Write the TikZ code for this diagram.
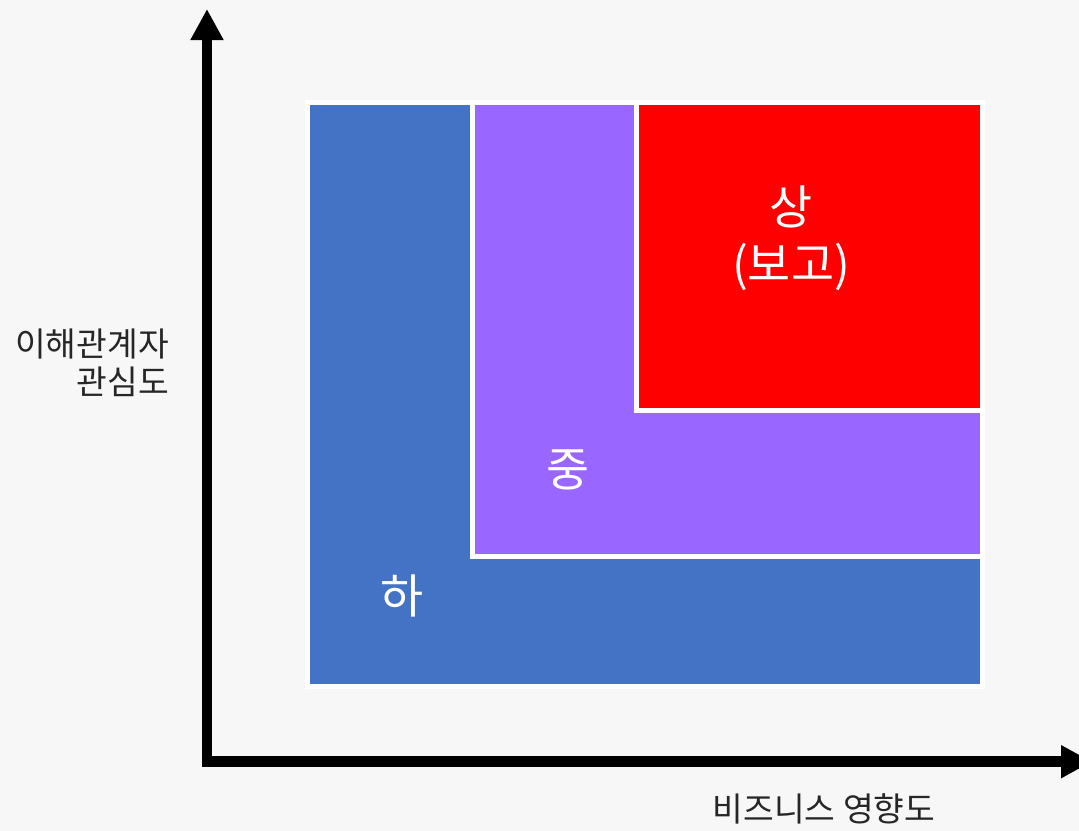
\documentclass[tikz,border=0pt]{standalone}
\usepackage{fontspec}
\setmainfont{Noto Sans CJK KR}
\usetikzlibrary{arrows.meta}
\definecolor{bgc}{HTML}{F7F7F7}
\definecolor{lowc}{HTML}{4472C4}
\definecolor{midc}{HTML}{9966FF}
\definecolor{highc}{HTML}{FF0000}
\tikzset{
  zone/.style={draw=white, line width=5bp},
  axisline/.style={line width=10.5bp, -{Triangle[length=31bp,width=31bp]}},
  zonelabel/.style={text=white, font=\fontsize{47}{57}\selectfont, inner sep=0pt, align=center},
  axislabel/.style={text=black!85, font=\fontsize{33.5}{38}\selectfont, inner sep=0pt}
}
\begin{document}
\begin{tikzpicture}[x=1bp, y=-1bp]
  \useasboundingbox (0,0) rectangle (1079,831);
  \fill[bgc] (0,0) rectangle (1079,831);
  % zones
  \path[zone, fill=lowc] (307.5,102.5) rectangle (982.5,686);
  \path[zone, fill=midc] (472,102.5) rectangle (982.5,556);
  \path[zone, fill=highc] (636.5,102.5) rectangle (982.5,410.5);
  % labels
  \node[zonelabel] (high) at (791,238) {상\\(보고)};
  \node[zonelabel] (mid) at (568,470) {중};
  \node[zonelabel] (low) at (402,596) {하};
  % axes
  \coordinate (ytip) at (207,9);
  \coordinate (xtip) at (1092,761.7);
  \coordinate (ystart) at (207,766.95);
  \coordinate (xstart) at (201.75,761.7);
  \draw[axisline] (ystart) -- (ytip);
  \draw[axisline] (xstart) -- (xtip);
  \node[axislabel, align=right, anchor=east] (ylab) at (169,363) {이해관계자\\관심도};
  \node[axislabel] (xlab) at (824,809) {비즈니스 영향도};
\end{tikzpicture}
\end{document}
